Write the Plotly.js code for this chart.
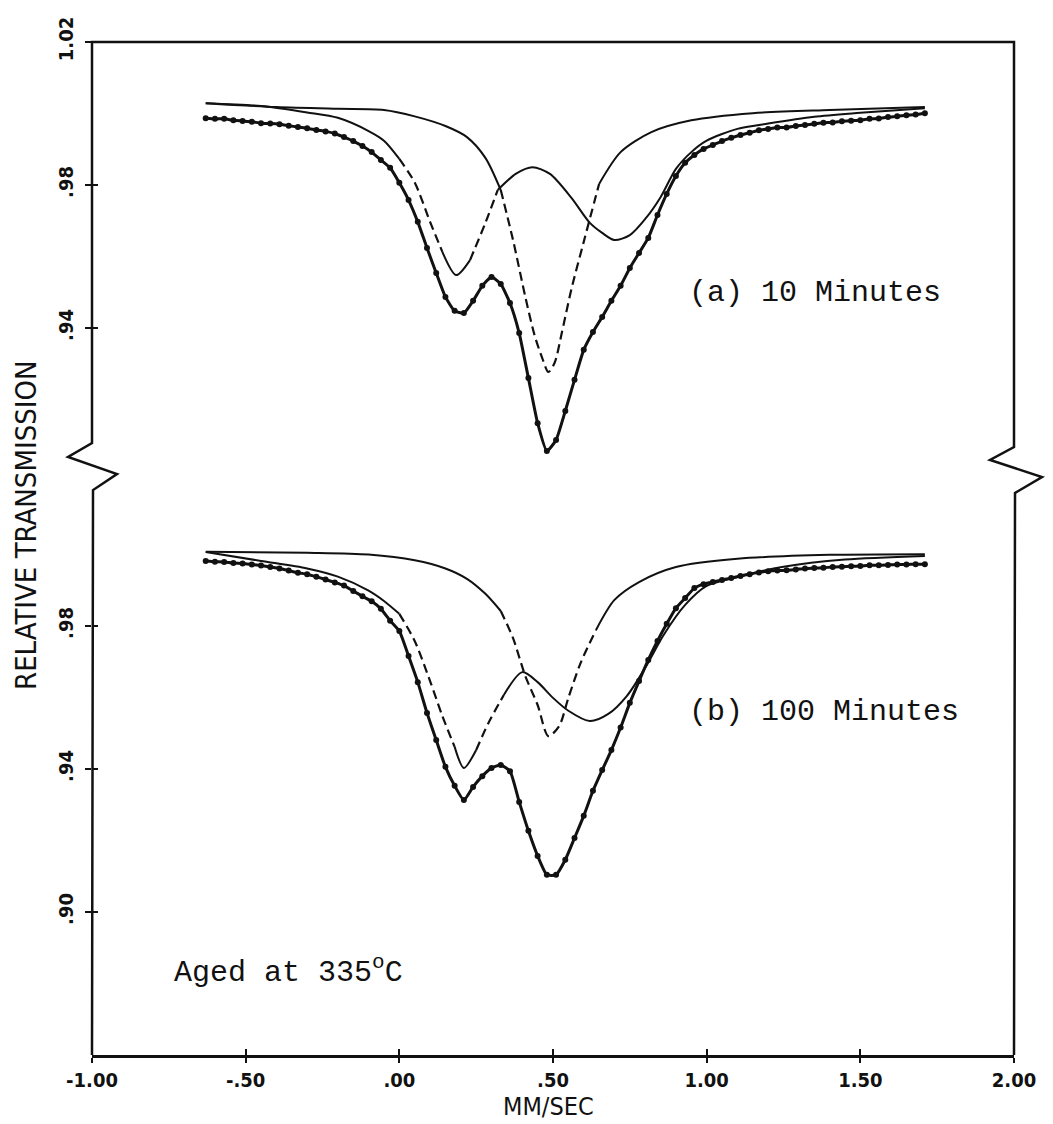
<!DOCTYPE html>
<html>
<head>
<meta charset="utf-8">
<script src="https://cdn.plot.ly/plotly-3.0.1.min.js"></script>
<style>
  html, body { margin: 0; padding: 0; background: #ffffff; }
  #chart { width: 1053px; height: 1124px; }
</style>
</head>
<body>
<div id="chart"></div>
<script>
// Velocity channels (mm/s) of the measured spectra
const velocity = [-0.63,-0.60,-0.57,-0.54,-0.51,-0.48,-0.45,-0.42,-0.39,-0.36,
  -0.33,-0.30,-0.27,-0.24,-0.21,-0.18,-0.15,-0.12,-0.09,-0.06,
  -0.03,0.00,0.03,0.06,0.09,0.12,0.15,0.18,0.21,0.24,
  0.27,0.30,0.33,0.36,0.39,0.42,0.45,0.48,0.51,0.54,
  0.57,0.60,0.63,0.66,0.69,0.72,0.75,0.78,0.81,0.84,
  0.87,0.90,0.93,0.96,0.99,1.02,1.05,1.08,1.11,1.14,
  1.17,1.20,1.23,1.26,1.29,1.32,1.35,1.38,1.41,1.44,
  1.47,1.50,1.53,1.56,1.59,1.62,1.65,1.68,1.71];

// Measured relative transmission, (a) aged 10 minutes
const trans10 = [0.9987,0.9985,0.9985,0.9981,0.9979,0.9977,0.9973,0.9972,0.9970,0.9966,
  0.9962,0.9959,0.9954,0.9950,0.9944,0.9934,0.9923,0.9909,0.9892,0.9870,
  0.9848,0.9806,0.9758,0.9697,0.9624,0.9554,0.9487,0.9448,0.9442,0.9476,
  0.9518,0.9543,0.9523,0.9470,0.9386,0.9260,0.9134,0.9056,0.9087,0.9168,
  0.9255,0.9339,0.9389,0.9431,0.9476,0.9518,0.9568,0.9610,0.9652,0.9716,
  0.9775,0.9825,0.9862,0.9884,0.9901,0.9912,0.9923,0.9932,0.9940,0.9946,
  0.9953,0.9957,0.9961,0.9961,0.9965,0.9968,0.9971,0.9974,0.9975,0.9978,
  0.9980,0.9981,0.9985,0.9986,0.9990,0.9992,0.9995,0.9997,1.0001];

// Measured relative transmission, (b) aged 100 minutes
const trans100 = [0.9982,0.9980,0.9979,0.9976,0.9975,0.9972,0.9969,0.9965,0.9961,0.9955,
  0.9949,0.9945,0.9938,0.9930,0.9922,0.9913,0.9898,0.9883,0.9869,0.9848,
  0.9815,0.9786,0.9716,0.9643,0.9557,0.9481,0.9406,0.9353,0.9313,0.9350,
  0.9380,0.9403,0.9411,0.9394,0.9308,0.9227,0.9157,0.9104,0.9104,0.9146,
  0.9207,0.9269,0.9339,0.9397,0.9453,0.9516,0.9585,0.9646,0.9705,0.9758,
  0.9806,0.9850,0.9878,0.9906,0.9917,0.9923,0.9929,0.9934,0.9940,0.9945,
  0.9950,0.9953,0.9955,0.9956,0.9958,0.9961,0.9962,0.9963,0.9965,0.9966,
  0.9967,0.9968,0.9970,0.9970,0.9971,0.9972,0.9972,0.9973,0.9973];

// Fitted subspectra, (a) 10 minutes: quadrupole doublet and single line
const dbl10Vel = [-0.63,-0.45,-0.30,-0.20,-0.10,-0.05,0.00,0.05,0.10,0.14,0.185,0.23,0.28,0.32,0.38,0.433,
  0.49,0.56,0.62,0.66,0.70,0.75,0.80,0.85,0.90,0.95,1.00,1.10,1.20,1.35,1.50,1.71];
const dbl10 = [1.0029,1.0021,1.0003,0.9988,0.9951,0.9924,0.9873,0.9807,0.9697,0.9613,0.9548,0.9590,0.9694,0.9786,0.9832,0.9850,
  0.9831,0.9764,0.9694,0.9666,0.9646,0.9660,0.9705,0.9766,0.9845,0.9892,0.9924,0.9957,0.9972,0.9991,1.0002,1.0015];
const sgl10Vel = [-0.63,-0.40,-0.20,-0.05,0.05,0.15,0.22,0.28,0.33,0.37,0.41,0.44,0.465,0.485,0.505,0.53,
  0.56,0.60,0.65,0.72,0.82,0.95,1.15,1.40,1.71];
const sgl10 = [1.0029,1.0018,1.0013,1.0010,0.9992,0.9965,0.9934,0.9876,0.9786,0.9646,0.9487,0.9380,0.9316,0.9277,0.9302,0.9392,
  0.9509,0.9641,0.9803,0.9892,0.9948,0.9981,1.0001,1.0010,1.0018];

// Fitted subspectra, (b) 100 minutes
const dbl100Vel = [-0.63,-0.45,-0.30,-0.20,-0.10,-0.05,0.00,0.05,0.10,0.14,0.18,0.21,0.25,0.29,0.34,0.40,
  0.45,0.50,0.55,0.62,0.68,0.74,0.80,0.86,0.93,1.00,1.10,1.25,1.45,1.71];
const dbl100 = [1.0007,0.9982,0.9961,0.9938,0.9899,0.9870,0.9834,0.9758,0.9646,0.9548,0.9462,0.9403,0.9453,0.9529,0.9607,0.9671,
  0.9643,0.9599,0.9563,0.9534,0.9554,0.9604,0.9683,0.9775,0.9859,0.9912,0.9937,0.9966,0.9986,0.9996];
const sgl100Vel = [-0.63,-0.30,-0.10,0.05,0.15,0.22,0.28,0.33,0.37,0.41,0.45,0.485,0.52,0.55,0.59,0.64,
  0.70,0.78,0.90,1.10,1.40,1.71];
const sgl100 = [1.0008,1.0005,1.0000,0.9984,0.9961,0.9932,0.9890,0.9842,0.9766,0.9660,0.9579,0.9492,0.9520,0.9599,0.9697,0.9789,
  0.9873,0.9923,0.9965,0.9988,0.9999,1.0001];

// Axis ticks and text
const xTickVals = [-1, -0.5, 0, 0.5, 1, 1.5, 2];
const xTickText = ['-1.00', '-.50', '.00', '.50', '1.00', '1.50', '2.00'];
const yTickValsTop = [0.94, 0.98, 1.02];
const yTickTextTop = ['.94', '.98', '1.02'];
const yTickValsBottom = [0.90, 0.94, 0.98];
const yTickTextBottom = ['.90', '.94', '.98'];
const xTitle = 'MM/SEC';
const yTitle = 'RELATIVE TRANSMISSION';
const panelLabels = ['(a) 10 Minutes', '(b) 100 Minutes'];
const agingNote = 'Aged at 335<sup>o</sup>C';

// Velocity spans where the plotter pen drew a fitted curve broken (steep flanks)
const brokenSpans = {
  dbl10: [[0.00, 0.14], [0.23, 0.32]],
  sgl10: [[0.33, 0.65]],
  dbl100: [[0.00, 0.18], [0.25, 0.34]],
  sgl100: [[0.33, 0.64]]
};

const INK = '#111111';
const EPS = 1e-9;

function componentTraces(xs, ys, spans, yaxis) {
  const strictlyIn = v => spans.some(r => v > r[0] + EPS && v < r[1] - EPS);
  const within = v => spans.some(r => v >= r[0] - EPS && v <= r[1] + EPS);
  const solidY = ys.map((y, i) => strictlyIn(xs[i]) ? null : y);
  const dashY = ys.map((y, i) => within(xs[i]) ? y : null);
  const base = {
    type: 'scatter', mode: 'lines', x: xs, xaxis: 'x', yaxis: yaxis,
    connectgaps: false, hoverinfo: 'skip', showlegend: false
  };
  return [
    Object.assign({}, base, { y: solidY, line: { color: INK, width: 2, shape: 'spline', smoothing: 0.8 } }),
    Object.assign({}, base, { y: dashY, line: { color: INK, width: 2.2, shape: 'spline', smoothing: 0.8, dash: '9px,5px' } })
  ];
}

function measuredTrace(ys, yaxis) {
  return {
    type: 'scatter', mode: 'lines+markers', x: velocity, y: ys, xaxis: 'x', yaxis: yaxis,
    line: { color: INK, width: 3, shape: 'spline', smoothing: 0.5 },
    marker: { color: INK, size: 6, symbol: 'circle' },
    hoverinfo: 'skip', showlegend: false
  };
}

const traces = [].concat(
  componentTraces(dbl10Vel, dbl10, brokenSpans.dbl10, 'y2'),
  componentTraces(sgl10Vel, sgl10, brokenSpans.sgl10, 'y2'),
  [measuredTrace(trans10, 'y2')],
  componentTraces(dbl100Vel, dbl100, brokenSpans.dbl100, 'y'),
  componentTraces(sgl100Vel, sgl100, brokenSpans.sgl100, 'y'),
  [measuredTrace(trans100, 'y')],
  // empty traces that carry the inward half of the crossing tick marks
  [{ type: 'scatter', x: [], y: [], xaxis: 'x2', yaxis: 'y3', hoverinfo: 'skip', showlegend: false },
   { type: 'scatter', x: [], y: [], xaxis: 'x', yaxis: 'y4', hoverinfo: 'skip', showlegend: false }]
);

const tickFontX = { family: 'DejaVu Sans Condensed, DejaVu Sans, sans-serif', size: 20, color: INK, weight: 'bold' };
const tickFontY = { family: 'DejaVu Sans Condensed, DejaVu Sans, sans-serif', size: 20, color: INK, weight: 'bold' };
const titleFont = { family: 'DejaVu Sans Condensed, DejaVu Sans, sans-serif', size: 29, color: INK };
const xTitleFont = { family: 'DejaVu Sans Condensed, DejaVu Sans, sans-serif', size: 25, color: INK };
const typeFont = { family: 'Courier New, Liberation Mono, monospace', size: 30, color: INK };

const X_RANGE = [-1, 2];
const BREAK = 0.5824;               // split between lower and upper panel (paper fraction)
const Y_RANGE_BOTTOM = [0.86, 1.02503];
const Y_RANGE_TOP = [0.90168, 1.02];

const tickCommon = { ticklen: 7, tickwidth: 2, tickcolor: INK, showgrid: false, zeroline: false, fixedrange: true };

const layout = {
  width: 1053, height: 1124,
  margin: { l: 92, r: 39, t: 42, b: 69, pad: 0 },
  paper_bgcolor: '#ffffff', plot_bgcolor: '#ffffff',
  showlegend: false,
  xaxis: Object.assign({}, tickCommon, {
    range: X_RANGE, tickmode: 'array', tickvals: xTickVals, ticktext: xTickText,
    ticks: 'outside', ticklen: 5, showline: true, linewidth: 2.5, linecolor: INK,
    tickfont: tickFontX, anchor: 'y', ticklabelstandoff: 0
  }),
  xaxis2: Object.assign({}, tickCommon, {
    overlaying: 'x', range: X_RANGE, tickmode: 'array', tickvals: xTickVals,
    ticks: 'inside', ticklen: 6, showticklabels: false, showline: false, anchor: 'y', side: 'bottom'
  }),
  yaxis: Object.assign({}, tickCommon, {
    domain: [0, BREAK], range: Y_RANGE_BOTTOM, tickmode: 'array',
    tickvals: yTickValsBottom, ticktext: yTickTextBottom, ticks: 'outside', ticklen: 6,
    tickangle: -90, showline: false, tickfont: tickFontY, anchor: 'x', ticklabelstandoff: 4
  }),
  yaxis2: Object.assign({}, tickCommon, {
    domain: [BREAK, 1], range: Y_RANGE_TOP, tickmode: 'array',
    tickvals: yTickValsTop, ticktext: yTickTextTop, ticks: 'outside', ticklen: 6,
    tickangle: -90, showline: false, tickfont: tickFontY, anchor: 'x', ticklabelstandoff: 4
  }),
  yaxis3: Object.assign({}, tickCommon, {
    overlaying: 'y', range: Y_RANGE_BOTTOM, tickmode: 'array', tickvals: yTickValsBottom,
    ticks: 'inside', ticklen: 6, showticklabels: false, showline: false, anchor: 'x', side: 'left'
  }),
  yaxis4: Object.assign({}, tickCommon, {
    overlaying: 'y2', range: Y_RANGE_TOP, tickmode: 'array', tickvals: yTickValsTop,
    ticks: 'inside', ticklen: 6, showticklabels: false, showline: false, anchor: 'x', side: 'left'
  }),
  shapes: [{
    // frame: left side with break mark, top edge, right side with break mark
    type: 'path', xref: 'paper', yref: 'paper',
    path: 'M 0,0 L 0.0011,0.5577 L 0.0271,0.5735 L -0.026,0.5903 L 0,0.6041 L 0,1 ' +
          'L 1,1 L 1,0.6002 L 0.974,0.5874 L 1.0304,0.5706 L 1.0011,0.5548 L 1,0',
    line: { color: INK, width: 2.5 }
  }],
  annotations: [
    { text: yTitle, xref: 'paper', yref: 'paper', x: -0.0716, y: 0.5232, textangle: -90,
      xanchor: 'center', yanchor: 'middle', showarrow: false, font: titleFont },
    { text: xTitle, xref: 'paper', yref: 'paper', x: 0.4946, y: -0.0662,
      xanchor: 'center', yanchor: 'bottom', showarrow: false, borderpad: 0, font: xTitleFont },
    { text: panelLabels[0], xref: 'paper', yref: 'paper', x: 0.7842, y: 0.7522,
      xanchor: 'center', yanchor: 'middle', showarrow: false, font: typeFont },
    { text: panelLabels[1], xref: 'paper', yref: 'paper', x: 0.7939, y: 0.3386,
      xanchor: 'center', yanchor: 'middle', showarrow: false, font: typeFont },
    { text: agingNote, xref: 'paper', yref: 'paper', x: 0.0868, y: 0.0839,
      xanchor: 'left', yanchor: 'middle', showarrow: false, font: typeFont }
  ]
};

Plotly.newPlot('chart', traces, layout, { displayModeBar: false, staticPlot: true });
</script>
</body>
</html>
